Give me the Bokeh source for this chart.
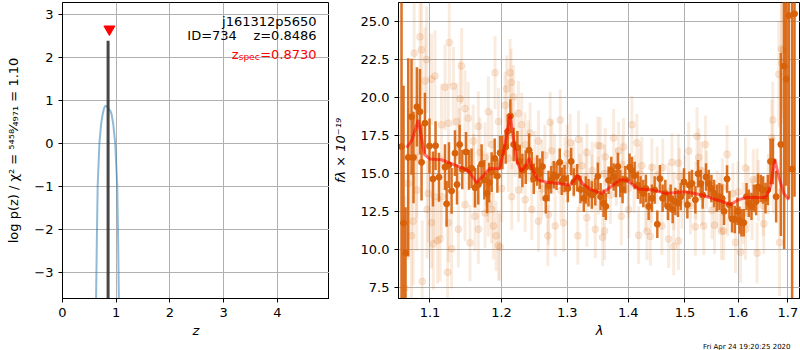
import numpy as np
from bokeh.plotting import figure
from bokeh.models import Range1d, FixedTicker, PrintfTickFormatter, CustomJSTickFormatter, Label, Title
from bokeh.layouts import row
from bokeh.embed import file_html
from bokeh.resources import INLINE

FONT = "DejaVu Sans"

# ---------------- left panel: log p(z) ----------------
pz_z = [0.58, 0.625, 0.64, 0.655, 0.687, 0.719, 0.749, 0.775, 0.800, 0.830, 0.861,
        0.890, 0.912, 0.944, 0.981, 1.019, 1.035, 1.049, 1.08]
pz_logp = [-8.0, -3.61, -2.2, -0.98, 0.0, 0.45, 0.68, 0.82, 0.87, 0.85, 0.80,
           0.75, 0.68, 0.45, 0.0, -0.98, -2.2, -3.61, -8.0]
z_best = 0.8486
z_best_top = 2.38
z_spec = 0.8730
z_spec_marker_y = 2.65
pz_xlim = (0.0, 4.97)
pz_ylim = (-3.61, 3.27)
pz_xticks = [0, 1, 2, 3, 4]
pz_yticks = [-3, -2, -1, 0, 1, 2, 3]

# ---------------- right panel: spectrum ----------------
bin_wave = [1.0626, 1.0652, 1.0678, 1.0713, 1.0756, 1.0782, 1.0827, 1.0867, 1.0888, 1.0933,
            1.0994, 1.1040, 1.1075, 1.1121, 1.1203, 1.1225, 1.1257, 1.1293, 1.1340, 1.1368,
            1.1404, 1.1441, 1.1493, 1.1535, 1.1571, 1.1620, 1.1666, 1.1713, 1.1752, 1.1791,
            1.1820, 1.1857, 1.1901, 1.1940, 1.1979, 1.2013, 1.2061, 1.2091, 1.2130, 1.2179,
            1.2234, 1.2269, 1.2309, 1.2359, 1.2410, 1.2450, 1.2480, 1.2532, 1.2571, 1.2613,
            1.2664, 1.2706, 1.2747, 1.2788, 1.2830, 1.2881, 1.2913, 1.2955, 1.3008, 1.3061,
            1.3103, 1.3157, 1.3210, 1.3263, 1.3296, 1.3340, 1.3394, 1.3450, 1.3492, 1.3537,
            1.3586, 1.3624, 1.3669, 1.3714, 1.3753, 1.3791, 1.3825, 1.3865, 1.3904, 1.3950,
            1.4023, 1.4062, 1.4109, 1.4165, 1.4212, 1.4259, 1.4304, 1.4352, 1.4409, 1.4457,
            1.4504, 1.4550, 1.4598, 1.4646, 1.4693, 1.4741, 1.4777, 1.4826, 1.4873, 1.4922,
            1.4982, 1.5044, 1.5081, 1.5129, 1.5191, 1.5240, 1.5290, 1.5327, 1.5389, 1.5440,
            1.5490, 1.5540, 1.5591, 1.5642, 1.5692, 1.5730, 1.5788, 1.5834, 1.5884, 1.5937,
            1.5989, 1.6028, 1.6067, 1.6112, 1.6166, 1.6211, 1.6264, 1.6310, 1.6356, 1.6395,
            1.6449, 1.6495, 1.6544, 1.6590, 1.6645, 1.6691, 1.6759, 1.6855, 1.6923, 1.6964,
            1.7020, 1.7088, 1.7138]
bin_flux = [16.77, 11.76, 9.79, 16.06, 18.73, 16.06, 19.38, 19.06, 15.74, 18.31,
            16.81, 14.65, 16.83, 14.76, 15.42, 13.02, 15.56, 13.86, 16.34, 14.28,
            16.91, 15.27, 16.42, 15.24, 15.35, 14.07, 14.28, 15.63, 14.60, 13.70,
            14.41, 15.10, 16.00, 14.84, 16.36, 16.38, 16.75, 17.77, 18.78, 16.91,
            16.70, 15.80, 15.20, 15.42, 16.53, 15.42, 14.67, 15.20, 14.99, 15.46,
            13.38, 14.18, 14.60, 14.92, 14.82, 15.74, 14.50, 14.67, 14.02, 15.80,
            14.45, 14.73, 13.96, 13.38, 13.92, 13.75, 13.60, 13.81, 14.82, 13.49,
            13.06, 12.85, 14.56, 15.20, 14.78, 14.35, 15.46, 14.35, 13.96, 14.60,
            15.42, 15.20, 14.88, 14.24, 13.92, 13.70, 14.02, 12.85, 13.38, 13.92,
            11.68, 14.67, 13.38, 13.70, 12.85, 13.38, 12.64, 13.17, 13.06, 13.49,
            14.45, 12.96, 14.24, 14.35, 13.28, 14.99, 14.35, 13.60, 14.78, 14.35,
            14.02, 13.70, 13.38, 13.49, 13.38, 12.53, 14.65, 12.96, 12.03, 11.99,
            12.53, 11.95, 11.78, 11.78, 13.49, 13.06, 12.85, 13.38, 13.17, 14.13,
            14.02, 13.92, 13.38, 13.92, 15.80, 15.80, 13.49, 16.91, 22.05, 21.20,
            25.37, 15.30, 25.48]
bin_err = [15.0, 9.0, 3.0, 6.5, 3.8, 3.0, 2.6, 2.8, 2.5, 2.0,
           1.8, 1.8, 1.6, 1.6, 1.5, 1.5, 1.5, 1.5, 1.5, 1.3,
           1.3, 1.3, 1.3, 1.3, 1.3, 1.3, 1.3, 1.3, 1.3, 1.3,
           1.3, 1.3, 1.3, 1.1, 1.1, 1.1, 1.1, 1.1, 1.1, 1.1,
           1.1, 1.1, 1.1, 1.1, 1.1, 1.0, 1.0, 1.0, 1.0, 1.0,
           1.0, 1.0, 0.9, 0.9, 0.9, 0.9, 0.9, 0.9, 0.9, 0.9,
           0.9, 0.9, 0.9, 0.9, 0.9, 0.9, 0.9, 0.9, 0.9, 0.9,
           0.9, 0.9, 0.9, 0.9, 0.9, 0.9, 0.9, 0.9, 0.9, 0.9,
           0.9, 0.9, 0.9, 0.9, 0.9, 0.9, 0.9, 0.9, 0.9, 0.9,
           0.9, 0.9, 0.9, 0.9, 0.9, 0.9, 0.9, 0.9, 0.9, 0.9,
           0.9, 0.9, 0.9, 0.9, 0.9, 0.9, 0.9, 0.9, 0.9, 0.9,
           0.9, 0.9, 0.9, 0.9, 0.9, 0.9, 0.9, 0.9, 0.9, 0.9,
           0.9, 0.9, 0.9, 0.9, 0.9, 0.9, 0.9, 0.9, 0.9, 0.9,
           0.9, 0.9, 1.0, 1.0, 1.5, 1.5, 1.7, 6.0, 12.0, 7.0,
           12.0, 12.0, 12.0]

faint_wave = [1.0867, 1.1261, 1.1431, 1.1906, 1.0897, 1.1238, 1.1044, 1.1102, 1.1135, 1.1293,
              1.1549, 1.1921, 1.1955, 1.0756, 1.0713, 1.0933, 1.1021, 1.1203, 1.1317, 1.1410,
              1.1479, 1.1525, 1.1156, 1.1248, 1.1362, 1.1666, 1.1810, 1.1955, 1.0822, 1.0977,
              1.1066, 1.0963, 1.1479, 1.1620, 1.1762, 1.1857, 1.1810, 1.1250, 1.1387, 1.1668,
              1.1882, 1.1158, 1.0824, 1.0778, 1.1023, 1.0670, 1.0791, 1.0888, 1.0955, 1.1068,
              1.1690, 1.1762, 1.1859, 1.1595,
              1.2126, 1.2141, 1.2175, 1.2076, 1.2052, 1.2249, 1.2298, 1.2425, 1.2551, 1.2732,
              1.2889, 1.3045, 1.3178, 1.3313, 1.3492, 1.2002, 1.2150, 1.2249, 1.2350, 1.2450,
              1.2551, 1.2706, 1.2810, 1.2940, 1.2695, 1.3167, 1.3313, 1.3450, 1.1979, 1.2602,
              1.2966, 1.3231, 1.3394, 1.2400, 1.2757,
              1.4062, 1.3753, 1.4148, 1.3921, 1.3614, 1.3531, 1.4409, 1.4764, 1.4881, 1.5068,
              1.5221, 1.3570, 1.3603, 1.3882, 1.4177, 1.4322, 1.4381, 1.4705, 1.4795, 1.4881,
              1.5191, 1.4585, 1.4234, 1.4006, 1.4946, 1.5314, 1.3837,
              1.5253, 1.5378, 1.5788, 1.6146, 1.6376, 1.6691, 1.6671, 1.6814, 1.6869, 1.5346,
              1.5548, 1.5680, 1.5724, 1.5950, 1.6048, 1.6376, 1.6510, 1.6828, 1.5661, 1.6146,
              1.6276, 1.6875, 1.6910,
              1.14, 1.16, 1.18, 1.21, 1.23, 1.26, 1.29, 1.31, 1.33, 1.35,
              1.37, 1.39, 1.41, 1.43, 1.45, 1.47, 1.49, 1.51, 1.53, 1.55,
              1.57, 1.59, 1.61, 1.63, 1.65, 1.67,
              1.215, 1.22, 1.235, 1.25, 1.265, 1.28, 1.30, 1.32, 1.34, 1.36,
              1.38, 1.40, 1.42, 1.44, 1.46, 1.48, 1.50, 1.52, 1.54, 1.56,
              1.58, 1.60, 1.62, 1.64, 1.66]
faint_flux = [23.97, 23.60, 22.05, 21.62, 7.93, 8.53, 10.39, 10.60, 10.71, 10.07,
              10.46, 10.92, 10.28, 10.92, 14.35, 21.08, 21.19, 20.66, 20.72, 19.91,
              19.27, 18.63, 18.20, 18.31, 18.42, 18.10, 19.06, 18.42, 16.06, 13.70,
              13.49, 12.64, 12.96, 12.21, 12.42, 12.64, 13.06, 11.78, 11.35, 11.35,
              11.57, 13.49, 13.92, 11.88, 11.78, 7.50, 22.90, 23.12, 22.48, 21.40,
              16.38, 16.06, 16.91, 17.13,
              21.62, 20.98, 20.02, 20.55, 19.48, 18.95, 18.20, 17.66, 17.13, 18.37,
              18.52, 17.02, 17.24, 16.38, 16.85, 14.02, 13.49, 13.92, 13.28, 12.64,
              11.88, 12.32, 11.57, 11.78, 10.92, 10.92, 12.10, 11.35, 10.18, 15.20,
              15.52, 15.52, 14.35, 16.49, 16.49,
              18.20, 17.34, 17.02, 16.75, 16.10, 16.81, 15.42, 15.74, 15.69, 16.49,
              17.45, 10.82, 11.24, 12.21, 10.96, 11.22, 10.88, 10.71, 10.24, 10.58,
              11.52, 11.57, 15.52, 12.64, 13.28, 13.49, 16.49,
              16.06, 16.91, 16.27, 15.37, 14.67, 18.52, 17.34, 21.52, 23.17, 11.57,
              11.62, 11.22, 11.24, 10.49, 9.85, 9.79, 11.71, 10.49, 13.06, 11.35,
              12.64, 22.27, 23.10,
              16.8, 15.2, 14.1, 16.0, 15.8, 14.0, 13.9, 15.3, 14.8, 14.2,
              13.6, 15.6, 14.3, 13.1, 14.9, 13.8, 14.8, 12.9, 15.2, 12.6,
              14.1, 13.7, 12.4, 14.6, 12.9, 14.9,
              17.5, 16.9, 16.9, 15.8, 16.2, 15.6, 16.3, 14.4, 15.2, 15.0,
              14.8, 14.0, 15.0, 13.7, 15.4, 13.2, 14.3, 13.9, 14.6, 13.3,
              12.8, 13.8, 13.5, 13.9, 14.3]
faint_err = [4.0, 2.8, 2.5, 2.4, 4.0, 3.0, 3.0, 2.8, 2.8, 2.6,
             2.5, 2.3, 2.3, 4.5, 5.0, 3.5, 3.0, 2.8, 2.6, 2.5,
             2.5, 2.4, 2.7, 2.6, 2.5, 2.3, 2.3, 2.2, 4.0, 3.2,
             3.0, 3.2, 2.4, 2.3, 2.3, 2.2, 2.2, 2.6, 2.5, 2.3,
             2.2, 2.7, 4.0, 4.2, 3.0, 6.0, 4.5, 4.0, 3.5, 3.0,
             2.3, 2.3, 2.2, 2.4,
             2.2, 2.2, 2.1, 2.2, 2.2, 2.1, 2.1, 2.0, 2.0, 2.0,
             2.0, 1.9, 1.9, 1.9, 1.9, 2.2, 2.2, 2.1, 2.1, 2.0,
             2.0, 2.0, 2.0, 1.9, 2.0, 1.9, 1.9, 1.9, 2.2, 2.0,
             1.9, 1.9, 1.9, 2.0, 2.0,
             1.9, 1.9, 1.9, 1.9, 1.9, 1.9, 1.9, 1.9, 1.9, 1.9,
             1.9, 1.9, 1.9, 1.9, 1.9, 1.9, 1.9, 1.9, 1.9, 1.9,
             1.9, 1.9, 1.9, 1.9, 1.9, 1.9, 1.9,
             1.9, 1.9, 1.9, 2.0, 2.0, 2.5, 2.5, 3.5, 4.0, 1.9,
             1.9, 1.9, 1.9, 2.0, 2.0, 2.0, 2.0, 3.5, 1.9, 2.0,
             2.0, 4.0, 4.5,
             2.5, 2.4, 2.3, 2.2, 2.1, 2.0, 2.0, 1.9, 1.9, 1.9,
             1.9, 1.9, 1.9, 1.9, 1.9, 1.9, 1.9, 1.9, 1.9, 1.9,
             1.9, 2.0, 2.0, 2.0, 2.0, 2.5,
             2.2, 2.1, 2.1, 2.0, 2.0, 2.0, 1.9, 1.9, 1.9, 1.9,
             1.9, 1.9, 1.9, 1.9, 1.9, 1.9, 1.9, 1.9, 1.9, 1.9,
             1.9, 2.0, 2.0, 2.0, 2.0]

model_wave = [1.0691, 1.0756, 1.0844, 1.0888, 1.0924, 1.1000, 1.1156, 1.1248, 1.1362, 1.1525,
              1.1643, 1.1738, 1.1834, 1.1955, 1.1979, 1.2052, 1.2126, 1.2175, 1.2224, 1.2290,
              1.2350, 1.2410, 1.2475, 1.2551, 1.2706, 1.2862, 1.3045, 1.3167, 1.3242, 1.3394,
              1.3558, 1.3669, 1.3865, 1.3977, 1.4177, 1.4439, 1.4646, 1.5008, 1.5314, 1.5502,
              1.5692, 1.5857, 1.5982, 1.6146, 1.6544, 1.6645, 1.6732, 1.6814, 1.6917, 1.7020]
model_flux = [16.70, 17.13, 18.52, 17.34, 16.27, 15.95, 15.91, 15.74, 15.52, 15.20,
              14.41, 14.88, 15.35, 15.31, 15.42, 16.91, 18.88, 17.34, 15.85, 15.16,
              15.42, 16.01, 15.10, 14.56, 14.41, 14.35, 14.24, 14.88, 14.35, 13.92,
              13.70, 14.02, 14.60, 14.56, 13.99, 13.92, 13.70, 13.81, 13.60, 13.38,
              13.17, 12.96, 13.24, 13.43, 13.43, 14.13, 15.95, 14.78, 13.70, 13.28]

sp_xlim = (1.0587, 1.7263)
sp_ylim = (6.81, 26.22)
sp_xticks = [1.1, 1.2, 1.3, 1.4, 1.5, 1.6, 1.7]
sp_yticks = [7.5, 10.0, 12.5, 15.0, 17.5, 20.0, 22.5, 25.0]
timestamp = "Fri Apr 24 19:20:25 2020"

ORANGE = "#d8620a"
GRID = "#b0b0b0"
FRAME_H = 296


def style(p):
    p.background_fill_color = "white"
    p.border_fill_color = "white"
    p.outline_line_color = "black"
    p.outline_line_width = 1
    p.outline_line_alpha = 1.0
    p.grid.grid_line_color = GRID
    p.grid.grid_line_width = 1
    for ax in p.axis:
        ax.axis_line_color = "black"
        ax.major_tick_line_color = "black"
        ax.major_tick_out = 4
        ax.major_tick_in = 0
        ax.minor_tick_line_color = None
        ax.major_label_text_font = FONT
        ax.major_label_text_font_size = "13px"
        ax.major_label_text_color = "black"
        ax.axis_label_text_font = FONT
        ax.axis_label_text_font_size = "13px"
        ax.axis_label_text_color = "black"
        ax.axis_label_standoff = 3
    p.yaxis.axis_label_standoff = 10


def minus_fmt():
    return CustomJSTickFormatter(code="return (tick < 0 ? '\u2212' : '') + Math.abs(tick).toString();")


# ---------- left figure ----------
p1 = figure(frame_width=267, frame_height=FRAME_H, min_border_left=62, min_border_right=0,
            min_border_top=2, min_border_bottom=44,
            x_range=Range1d(*pz_xlim), y_range=Range1d(*pz_ylim),
            output_backend="svg", toolbar_location=None)
style(p1)
p1.xaxis.ticker = FixedTicker(ticks=pz_xticks)
p1.yaxis.ticker = FixedTicker(ticks=pz_yticks)
p1.xgrid.ticker = FixedTicker(ticks=pz_xticks)
p1.ygrid.ticker = FixedTicker(ticks=pz_yticks)
p1.xaxis.formatter = minus_fmt()
p1.yaxis.formatter = minus_fmt()
p1.xaxis.axis_label = "z"
p1.xaxis.axis_label_text_font_style = "italic"
p1.yaxis.axis_label = "log p(z) / \u03c7\u00b2 = \u2075\u2074\u2075\u2078\u2044\u2084\u2089\u2087\u2081 = 1.10"
p1.yaxis.axis_label_text_font_style = "normal"

p1.line(pz_z, pz_logp, line_color="#1f77b4", line_alpha=0.5, line_width=2)
p1.segment(x0=[z_best], y0=[pz_ylim[0]], x1=[z_best], y1=[z_best_top],
           line_color="#333333", line_alpha=0.9, line_width=3)
p1.scatter(x=[z_spec], y=[z_spec_marker_y], marker="inverted_triangle", size=11,
           fill_color="red", line_color="red")

lab_kw = dict(text_font=FONT, text_font_size="13px", text_align="right", text_baseline="middle")
p1.add_layout(Label(x=4.73, y=2.84, text="j161312p5650", text_color="black", **lab_kw))
p1.add_layout(Label(x=4.73, y=2.50, text="ID=734\u00a0\u00a0\u00a0\u00a0z=0.8486", text_color="black", **lab_kw))
p1.add_layout(Label(x=4.73, y=2.07, text="=0.8730", text_color="red", **lab_kw))
p1.add_layout(Label(x=4.73, y=2.07, x_offset=-57, y_offset=-3, text="spec", text_color="red",
                    text_font=FONT, text_font_size="9px", text_align="right", text_baseline="middle"))
p1.add_layout(Label(x=4.73, y=2.07, x_offset=-78, text="z", text_color="red", **lab_kw))

# ---------- right figure ----------
p2 = figure(frame_width=402, frame_height=FRAME_H, min_border_left=68, min_border_right=0,
            min_border_top=2, min_border_bottom=44,
            x_axis_type="log",
            x_range=Range1d(*sp_xlim), y_range=Range1d(*sp_ylim),
            output_backend="svg", toolbar_location=None)
style(p2)
p2.xaxis.ticker = FixedTicker(ticks=sp_xticks)
p2.xgrid.ticker = FixedTicker(ticks=sp_xticks)
p2.yaxis.ticker = FixedTicker(ticks=sp_yticks)
p2.ygrid.ticker = FixedTicker(ticks=sp_yticks)
p2.xaxis.formatter = PrintfTickFormatter(format="%.1f")
p2.yaxis.formatter = PrintfTickFormatter(format="%.1f")
p2.xaxis.axis_label = "\u03bb"
p2.xaxis.axis_label_text_font_style = "italic"
p2.yaxis.axis_label = "f\u03bb \u00d7 10\u207b\u00b9\u2079"
p2.yaxis.axis_label_text_font_style = "italic"

fw = np.array(faint_wave); ff = np.array(faint_flux); fe = np.array(faint_err)
p2.segment(x0=fw, y0=ff - fe, x1=fw, y1=ff + fe, line_color=ORANGE, line_alpha=0.13, line_width=3)
p2.scatter(fw, ff, size=7, fill_color=ORANGE, fill_alpha=0.15, line_color=ORANGE, line_alpha=0.1)

bw = np.array(bin_wave); bf = np.array(bin_flux); be = np.array(bin_err)
p2.segment(x0=bw, y0=bf - be, x1=bw, y1=bf + be, line_color=ORANGE, line_alpha=0.9, line_width=2.5)
p2.scatter(bw, bf, size=6, fill_color=ORANGE, line_color=ORANGE)

p2.line(model_wave, model_flux, line_color="red", line_alpha=0.55, line_width=3)

p2.add_layout(Title(text=timestamp, align="right", text_font=FONT, text_font_size="7px",
                    text_font_style="normal", text_color="black", standoff=0, offset=10), "below")

layout = row(p1, p2)
open("out.html", "w").write(file_html(layout, INLINE))
